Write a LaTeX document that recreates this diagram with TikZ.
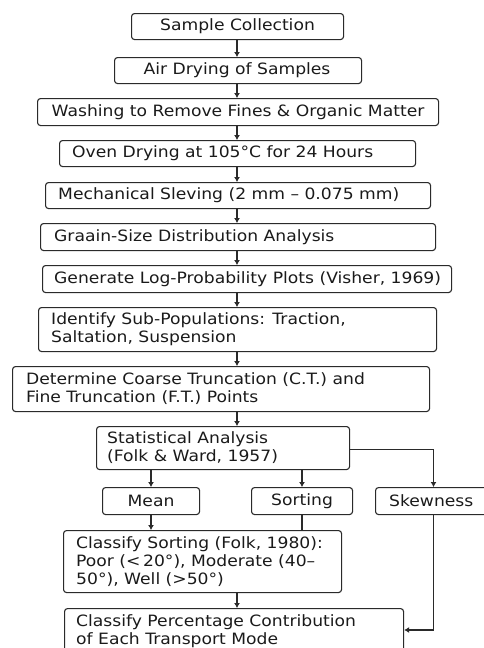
\documentclass[tikz,border=0pt]{standalone}
\usepackage{fontspec}
\setmainfont{DejaVu Sans}[FakeStretch=1.1]
\usetikzlibrary{arrows.meta}
\definecolor{ink}{HTML}{1A1A1A}
\definecolor{edge}{HTML}{2A2A2A}
\tikzset{
  box/.style={draw=edge, line width=1.1pt, rounded corners=3pt, anchor=north west,
    inner sep=0pt},
  txt/.style={anchor=west, text=ink, align=left, inner sep=0pt,
    font=\fontsize{15.6}{18}\selectfont},
  ctxt/.style={text=ink, align=center, inner sep=0pt,
    font=\fontsize{15.6}{18}\selectfont},
  arr/.style={draw=edge, line width=1.1pt, -{Latex[length=5pt,width=6pt]}},
  plain/.style={draw=edge, line width=1.1pt},
}
\begin{document}
\begin{tikzpicture}[x=1pt,y=-1pt]
\useasboundingbox (0,0) rectangle (484,648);
\coordinate (spine) at (237,0);
\coordinate (cL) at (151,0);
\coordinate (cM) at (302,0);
\coordinate (cR) at (433.5,0);

\node[box, minimum width=212pt, minimum height=26pt] (n1) at (131,13) {};
\node[ctxt] (n1t) at (n1.center) {Sample Collection};
\node[box, minimum width=247pt, minimum height=26pt] (n2) at (114,57) {};
\node[ctxt] (n2t) at ([xshift=-1pt]n2.center) {Air Drying of Samples};
\node[box, minimum width=401pt, minimum height=27pt] (n3) at (37,98) {};
\node[ctxt] (n3t) at (n3.center) {Washing to Remove Fines \& Organic Matter};
\node[box, minimum width=356pt, minimum height=26pt] (n4) at (59,140) {};
\node[txt] (n4t) at ([xshift=13pt]n4.west) {Oven Drying at 105°C for 24 Hours};
\node[box, minimum width=385pt, minimum height=26pt] (n5) at (45,182) {};
\node[txt] (n5t) at ([xshift=13pt]n5.west) {Mechanical Sleving (2 mm – 0.075 mm)};
\node[box, minimum width=395pt, minimum height=27pt] (n6) at (40,223) {};
\node[txt] (n6t) at ([xshift=14pt]n6.west) {Graain-Size Distribution Analysis};
\node[box, minimum width=409pt, minimum height=27pt] (n7) at (42,265) {};
\node[txt] (n7t) at ([xshift=12pt]n7.west) {Generate Log-Probability Plots (Visher, 1969)};
\node[box, minimum width=398pt, minimum height=44pt] (n8) at (38,307) {};
\node[txt] (n8t) at ([xshift=13pt]n8.west) {Identify Sub-Populations: Traction,\\Saltation, Suspension};
\node[box, minimum width=417pt, minimum height=45pt] (n9) at (12,366) {};
\node[txt] (n9t) at ([xshift=14pt]n9.west) {Determine Coarse Truncation (C.T.) and\\Fine Truncation (F.T.) Points};
\node[box, minimum width=253pt, minimum height=43pt] (n10) at (96,426) {};
\node[txt] (n10t) at ([xshift=11pt]n10.west) {Statistical Analysis\\(Folk \& Ward, 1957)};
\node[box, minimum width=97pt, minimum height=27pt] (mean) at (102,487) {};
\node[ctxt] (meant) at (mean.center) {Mean};
\node[box, minimum width=101pt, minimum height=27pt] (sort) at (251,487) {};
\node[ctxt] (sortt) at (sort.center) {Sorting};
\node[box, minimum width=115pt, minimum height=27pt] (skew) at (375,487) {};
\node[txt] (skewt) at ([xshift=14pt]skew.west) {Skewness};
\node[box, minimum width=278pt, minimum height=62pt] (cls) at (63,530) {};
\node[txt] (clst) at ([xshift=13pt]cls.west) {Classify Sorting (Folk, 1980):\\Poor (<\,20°), Moderate (40–\\50°), Well (>50°)};
\node[box, minimum width=339pt, minimum height=45pt] (fin) at (64,608) {};
\node[txt] (fint) at ([xshift=12pt]fin.west) {Classify Percentage Contribution\\of Each Transport Mode};

\draw[arr] (n1.south -| spine) -- (n2.north -| spine);
\draw[arr] (n2.south -| spine) -- (n3.north -| spine);
\draw[arr] (n3.south -| spine) -- (n4.north -| spine);
\draw[arr] (n4.south -| spine) -- (n5.north -| spine);
\draw[arr] (n5.south -| spine) -- (n6.north -| spine);
\draw[arr] (n6.south -| spine) -- (n7.north -| spine);
\draw[arr] (n7.south -| spine) -- (n8.north -| spine);
\draw[arr] (n8.south -| spine) -- (n9.north -| spine);
\draw[arr] (n9.south -| spine) -- (n10.north -| spine);
\draw[arr] (n10.south -| cL) -- (mean.north -| cL);
\draw[arr] (n10.south -| cM) -- (sort.north -| cM);
\draw[arr] ([yshift=-1.5pt]n10.east) -| (skew.north -| cR);
\draw[arr] (mean.south -| cL) -- (cls.north -| cL);
\draw[plain] (sort.south -| cM) -- (cls.north -| cM);
\draw[arr] (cls.south -| spine) -- (fin.north -| spine);
\coordinate (j) at (433.5,630);
\draw[arr] (skew.south -| cR) -- (j) -- (fin.east |- j);
\end{tikzpicture}
\end{document}
